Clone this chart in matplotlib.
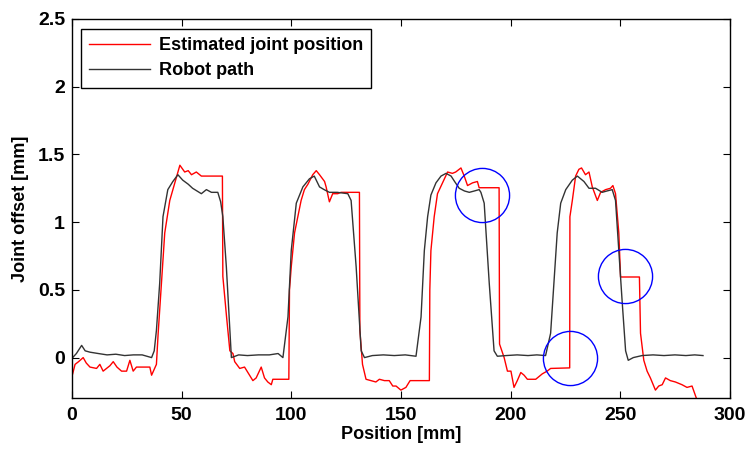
import matplotlib
matplotlib.use("Agg")
import matplotlib.pyplot as plt

plt.rcParams['font.family'] = ['Liberation Sans', 'DejaVu Sans']
plt.rcParams['font.weight'] = 'bold'

# robot path (black)
robot_x = [0.3, 2, 4.4, 6, 8.2, 12, 16, 20, 24, 28, 32, 36.3, 37.5, 38.5, 40, 41.5, 43.7, 46, 48.3, 50.5,
           53, 55, 57, 59, 61.3, 63.6, 66.5, 67.8, 68.8, 70.4, 72.7, 76, 80, 85, 90, 94, 96.2, 98.5, 100, 102.3,
           105.3, 108.3, 110.5, 112.9, 115, 117.4, 121, 125.8, 127.3, 129.6, 131.9, 133.4, 137, 142, 147, 152, 156.9, 159.2, 160.7, 162.2,
           163.7, 166, 168.3, 170.6, 172.9, 174.5, 176.6, 179, 181.2, 183.5, 185.7, 186.5, 188, 190.3, 192.5, 194, 198, 203, 208, 212,
           216, 218.3, 219.8, 221.3, 222.9, 225.2, 228.2, 230.5, 233.5, 235.8, 238.8, 241.8, 244, 246.4, 247.9, 249.4, 250.9, 252.5, 253.7, 256,
           260, 265, 270, 275, 280, 284, 287.8]
robot_y = [0.0, 0.03, 0.09, 0.05, 0.04, 0.03, 0.02, 0.025, 0.015, 0.02, 0.02, 0.0, 0.05, 0.2, 0.55, 1.04, 1.24, 1.30, 1.35, 1.31,
           1.28, 1.25, 1.23, 1.21, 1.24, 1.22, 1.22, 1.15, 1.04, 0.67, 0.0, 0.02, 0.015, 0.02, 0.02, 0.03, 0.0, 0.3, 0.79, 1.14,
           1.26, 1.32, 1.34, 1.26, 1.24, 1.22, 1.22, 1.21, 1.16, 0.67, 0.05, 0.0, 0.015, 0.02, 0.015, 0.02, 0.01, 0.3, 0.79, 1.04,
           1.2, 1.29, 1.34, 1.36, 1.34, 1.30, 1.25, 1.23, 1.22, 1.23, 1.24, 1.22, 1.14, 0.55, 0.05, 0.01, 0.015, 0.02, 0.015, 0.02,
           0.015, 0.18, 0.55, 0.92, 1.14, 1.24, 1.31, 1.34, 1.30, 1.25, 1.25, 1.22, 1.23, 1.24, 1.16, 0.79, 0.42, 0.05, -0.02, 0.0,
           0.015, 0.02, 0.015, 0.02, 0.015, 0.02, 0.015]

# estimated joint position (red)
est_x = [0.3, 1.4, 3, 5.1, 6.5, 8.2, 11.2, 12.7, 14.2, 17.3, 18.8, 20.5, 22.6, 24.9, 26.4, 27.9, 29.4, 35.5, 36.3, 38.5,
         39.3, 40.8, 42.3, 44.6, 46.9, 49.2, 51.4, 53, 54.5, 56.7, 59, 68.6, 68.8, 70.5, 72, 73.4, 74.2, 76.5, 78.7, 80.2,
         82.5, 84, 86.3, 87.8, 89.3, 90.9, 91.6, 98.9, 99.2, 100, 101.5, 103, 104.5, 106, 107.6, 109.8, 111.4, 112.9, 115.2, 115.9,
         117.4, 118.9, 121.2, 122.7, 131.1, 131.3, 132.5, 134.1, 136.4, 138.6, 140.2, 142.5, 144.7, 146.3, 147.8, 150, 152.3, 154.2, 163, 163.2,
         163.7, 165.2, 166.7, 169, 171.3, 173.5, 175, 177.4, 178.9, 180.4, 182.7, 184.9, 185.7, 194.8, 195, 197.1, 198.6, 200.2, 201.6, 203.1,
         204.7, 206.2, 207.7, 211.5, 214.5, 216.7, 218.3, 227, 227.1, 228.2, 229.7, 231.2, 232.4, 234.2, 235.8, 237.3, 239.6, 241.1, 243.4, 245.6,
         246.7, 247.9, 249.4, 250.2, 258.8, 259.3, 260.8, 262.3, 263.8, 266.1, 267.6, 269.2, 270.7, 272.9, 275.2, 278.2, 280.5, 282.8, 285]
est_y = [-0.12, -0.05, -0.03, 0.0, -0.04, -0.07, -0.08, -0.05, -0.1, -0.06, -0.03, -0.07, -0.1, -0.1, -0.02, -0.1, -0.07, -0.07, -0.13, -0.05,
         0.18, 0.55, 0.92, 1.16, 1.29, 1.42, 1.37, 1.38, 1.35, 1.37, 1.34, 1.34, 0.6, 0.3, 0.05, 0.03, -0.03, -0.08, -0.07, -0.11,
         -0.17, -0.15, -0.07, -0.15, -0.18, -0.2, -0.16, -0.16, 0.5, 0.67, 0.92, 1.04, 1.16, 1.24, 1.28, 1.35, 1.38, 1.35, 1.30, 1.26,
         1.15, 1.21, 1.21, 1.22, 1.22, 0.2, -0.05, -0.16, -0.17, -0.18, -0.16, -0.17, -0.17, -0.21, -0.21, -0.24, -0.22, -0.17, -0.17, 0.5,
         0.79, 1.04, 1.21, 1.29, 1.37, 1.36, 1.37, 1.40, 1.34, 1.27, 1.29, 1.30, 1.254, 1.254, 0.1, 0.0, -0.1, -0.1, -0.22, -0.17,
         -0.11, -0.13, -0.16, -0.16, -0.12, -0.1, -0.08, -0.076, 1.04, 1.16, 1.34, 1.39, 1.40, 1.35, 1.37, 1.26, 1.16, 1.22, 1.24, 1.25,
         1.27, 1.21, 0.92, 0.595, 0.595, 0.18, -0.02, -0.1, -0.15, -0.24, -0.21, -0.2, -0.15, -0.17, -0.18, -0.2, -0.22, -0.21, -0.31]

# highlighted spots
circle_x = [187.2, 227.1, 252.2]
circle_y = [1.2, 0.0, 0.6]

fig = plt.figure(figsize=(7.5, 4.51), dpi=100)
ax = fig.add_axes([0.096, 0.117, 0.877, 0.841])

ax.plot(est_x, est_y, color='#ff0000', lw=1.0, label='Estimated joint position')
ax.plot(robot_x, robot_y, color='#333333', lw=1.0, label='Robot path')
ax.plot(circle_x, circle_y, ls='none', marker='o', ms=39, mfc='none', mec='#0000ff', mew=1.0)

ax.set_xlim(0, 300)
ax.set_ylim(-0.3, 2.5)
ax.set_xticks([0, 50, 100, 150, 200, 250, 300])
ax.set_yticks([0, 0.5, 1, 1.5, 2, 2.5])
ax.set_yticklabels(['0', '0.5', '1', '1.5', '2', '2.5'])
ax.tick_params(direction='in', top=True, right=True, labelsize=14, length=5, width=0.8)
ax.tick_params(axis='x', pad=6)
ax.tick_params(axis='y', pad=5)
for s in ax.spines.values():
    s.set_linewidth(1.0)

ax.set_xlabel('Position [mm]', fontsize=13, fontweight='bold', labelpad=2)
ax.set_ylabel('Joint offset [mm]', fontsize=13, fontweight='bold', labelpad=6)

leg = ax.legend(loc='upper left', bbox_to_anchor=(0.013, 0.973), fontsize=13, handlelength=3.4,
                handletextpad=0.5, fancybox=False, framealpha=1, borderaxespad=0,
                labelspacing=0.45, borderpad=0.45)
leg.get_frame().set_edgecolor('black')
leg.get_frame().set_linewidth(1.0)

fig.savefig('out.png', dpi=100)
